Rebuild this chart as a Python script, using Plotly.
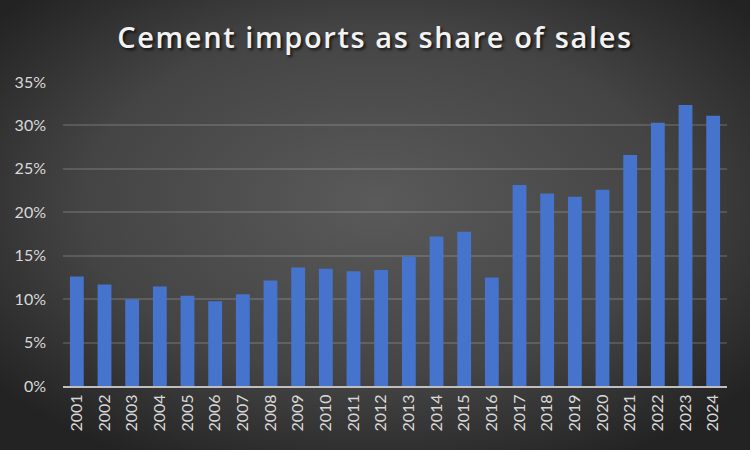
import plotly.graph_objects as go
import base64

years = [str(y) for y in range(2001, 2025)]
share = [12.6, 11.7, 10.0, 11.45, 10.4, 9.75, 10.55, 12.15, 13.65, 13.5, 13.2, 13.35,
         14.9, 17.2, 17.75, 12.5, 23.15, 22.15, 21.8, 22.6, 26.6, 30.3, 32.35, 31.1]
y_ticks = [0, 5, 10, 15, 20, 25, 30, 35]
y_tick_labels = [f"{v}%" for v in y_ticks]

svg = ('<svg xmlns="http://www.w3.org/2000/svg" width="750" height="450" preserveAspectRatio="none">'
       '<defs><radialGradient id="g" cx="50%" cy="45%" r="65%">'
       '<stop offset="0%" stop-color="#5a5a5a"/><stop offset="60%" stop-color="#444444"/>'
       '<stop offset="100%" stop-color="#232323"/></radialGradient></defs>'
       '<rect width="750" height="450" fill="url(#g)"/></svg>')
bg_src = "data:image/svg+xml;base64," + base64.b64encode(svg.encode()).decode()

fig = go.Figure()
fig.add_trace(go.Bar(
    x=years, y=share,
    marker=dict(color="#4674cc", line=dict(width=0)),
    hoverinfo="x+y",
))

fig.update_layout(
    width=750, height=450,
    margin=dict(l=63, r=23, t=82, b=64),
    paper_bgcolor="#3c3c3c",
    plot_bgcolor="rgba(0,0,0,0)",
    bargap=0.5,
    showlegend=False,
    title=dict(text='<span style="letter-spacing:1.6px">Cement imports as share of sales</span>',
               x=0.5, xanchor="center", y=0.915, yanchor="middle",
               font=dict(family="'Open Sans', Lato, sans-serif", size=29, weight=600,
                         color="#f2f2f2", shadow="2px 2px 3px rgba(0,0,0,0.7)")),
    font=dict(family="Lato, 'Open Sans', sans-serif", color="#d9d9d9", size=16),
    images=[dict(source=bg_src, xref="paper", yref="paper", x=-63/664, y=1 + 82/304,
                 sizex=750/664, sizey=450/304, xanchor="left", yanchor="top",
                 sizing="stretch", layer="below")],
)
fig.update_xaxes(
    type="category", tickangle=-90, showgrid=False, ticks="",
    showline=True, linecolor="#bfbfbf", linewidth=2,
    tickfont=dict(size=16, color="#d9d9d9"),
)
fig.update_yaxes(
    range=[0, 35], tickvals=y_ticks, ticktext=y_tick_labels,
    showgrid=True, gridcolor="rgba(255,255,255,0.14)", gridwidth=1.5,
    zeroline=False, ticks="", ticklabelstandoff=16,
    tickfont=dict(size=16, color="#d9d9d9"),
)
fig.write_html("out.html", config={"displayModeBar": False},
               post_script="document.body.style.margin='0';")
